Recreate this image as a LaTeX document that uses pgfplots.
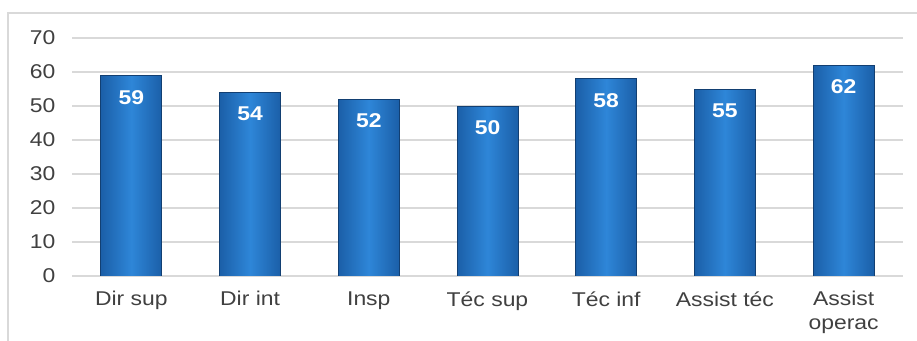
\documentclass[border=0pt]{standalone}
\usepackage{fontspec}
\setmainfont{Liberation Sans}[FakeStretch=1.15]
\usepackage{pgfplots}
\pgfplotsset{compat=1.18}
\definecolor{gridc}{HTML}{D9D9D9}
\definecolor{framec}{HTML}{D9D9D9}
\definecolor{tickc}{HTML}{404040}
\definecolor{bardark}{HTML}{123F72}
\definecolor{baredge}{HTML}{1B5FA8}
\definecolor{barmid}{HTML}{2E86D8}
\begin{document}
\begin{tikzpicture}
\path[use as bounding box] (-72bp,-65bp) rectangle (845bp,276bp);
\draw[framec, line width=1.5bp] (-64bp,-66bp) -- (-64bp,263bp) -- (846bp,263bp);
\begin{axis}[
  at={(0,0)}, anchor=south west,
  scale only axis, width=831bp, height=238bp,
  xmin=-0.5, xmax=6.5, ymin=0, ymax=70,
  ytick={0,10,...,70},
  xtick={0,...,6},
  xticklabels={Dir sup, Dir int, Insp, Téc sup, Téc inf, Assist téc, {Assist\\operac}},
  ymajorgrids, grid style={gridc, line width=1.5bp},
  axis line style={draw=none},
  major tick length=0pt,
  tick label style={font=\fontsize{20}{24}\selectfont, text=tickc},
  yticklabel style={xshift=-13bp},
  xticklabel style={align=center, anchor=north, yshift=-12bp},
  /pgf/number format/assume math mode=true,
  ybar, bar width=61bp, bar shift=0pt,
  nodes near coords,
  nodes near coords style={anchor=north, yshift=-11bp, text=white, font=\fontsize{20}{24}\selectfont\bfseries},
  barstyle/.style={draw=bardark, line width=1bp, left color=baredge, right color=baredge, middle color=barmid},
]
\addplot[barstyle] coordinates {(0,59)};
\addplot[barstyle] coordinates {(1,54)};
\addplot[barstyle] coordinates {(2,52)};
\addplot[barstyle] coordinates {(3,50)};
\addplot[barstyle] coordinates {(4,58)};
\addplot[barstyle] coordinates {(5,55)};
\addplot[barstyle] coordinates {(6,62)};
\end{axis}
\end{tikzpicture}
\end{document}
